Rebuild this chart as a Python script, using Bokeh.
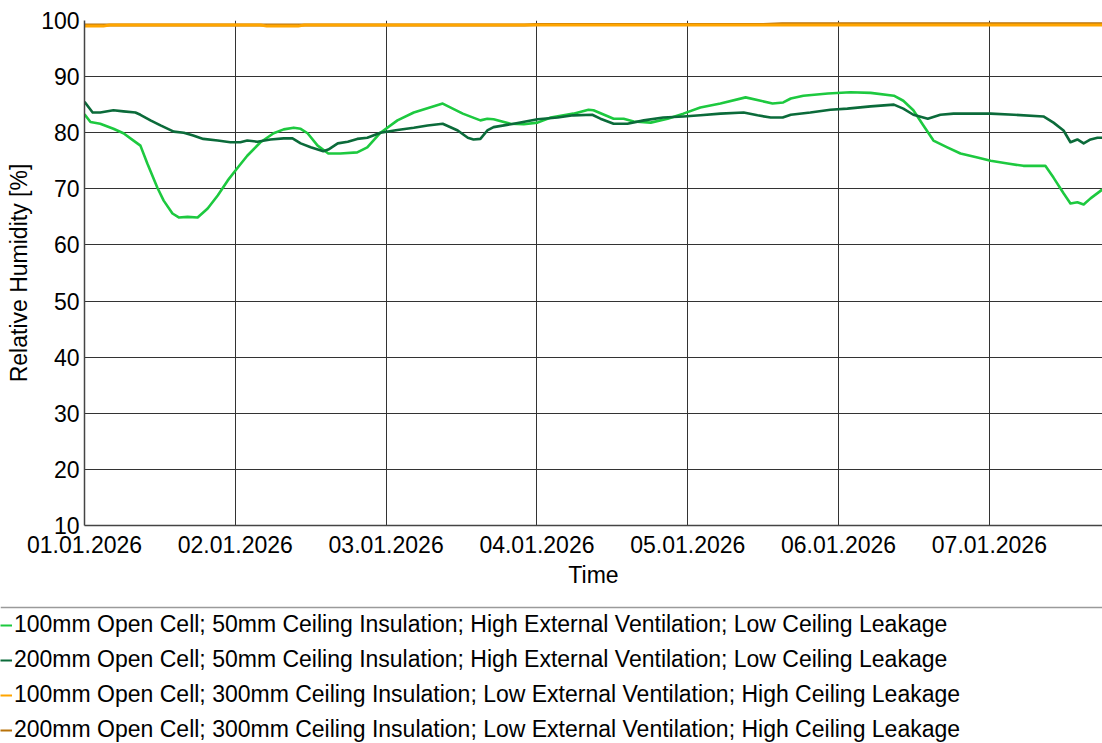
import pandas as pd
from bokeh.plotting import figure
from bokeh.models import (FixedTicker, DatetimeTickFormatter, Range1d, Legend, LegendItem,
                          Span, ColumnDataSource)
from bokeh.layouts import column, row
from bokeh.embed import file_html
from bokeh.resources import INLINE

# ---------------- data ----------------
start = pd.Timestamp("2026-01-01 00:00")

names = [
    "100mm Open Cell; 50mm Ceiling Insulation; High External Ventilation; Low Ceiling Leakage",
    "200mm Open Cell; 50mm Ceiling Insulation; High External Ventilation; Low Ceiling Leakage",
    "100mm Open Cell; 300mm Ceiling Insulation; Low External Ventilation; High Ceiling Leakage",
    "200mm Open Cell; 300mm Ceiling Insulation; Low External Ventilation; High Ceiling Leakage",
]
colors = ["#1DC93F", "#0B6B3A", "#FFA500", "#B8720A"]

h_a = [0, 0.95, 2.5, 4.6, 6.2, 7.8, 8.9, 10.0, 11.6, 12.6, 14.0, 15.0, 16.4, 18.0, 19.6,
       21.2, 22.8, 24.4, 25.9, 28.0, 30.1, 31.7, 33.3, 34.4, 35.5, 37.1, 38.8, 40.7, 43.4,
       45.0, 47.1, 49.8, 52.4, 57.0, 60.2, 63.0, 64.1, 65.1, 67.8, 69.9, 72.1, 74.2, 77.8,
       80.2, 81.0, 84.2, 85.8, 87.4, 90.1, 92.8, 95.3, 98.0, 101.2, 105.2, 107.6, 109.5,
       111.2, 112.4, 114.4, 118.3, 121.9, 125.1, 128.8, 130.3, 131.9, 133.5, 135.1, 137.3,
       139.4, 142.1, 144.2, 146.9, 149.4, 152.9, 154.2, 155.8, 156.9, 158.0, 159.0, 160.1, 162.0]
v_a = [83.3, 81.9, 81.6, 80.7, 79.9, 78.6, 77.7, 74.5, 70.2, 67.9, 65.6, 64.9, 65.0, 64.9, 66.5,
       68.8, 71.5, 73.8, 75.9, 78.3, 79.9, 80.6, 80.9, 80.7, 79.9, 77.7, 76.3, 76.3, 76.5,
       77.4, 80.0, 82.2, 83.6, 85.2, 83.4, 82.2, 82.5, 82.4, 81.6, 81.5, 81.8, 82.7, 83.4,
       84.1, 84.0, 82.5, 82.5, 82.0, 81.8, 82.5, 83.4, 84.5, 85.2, 86.3, 85.7, 85.2,
       85.4, 86.1, 86.6, 87.0, 87.2, 87.1, 86.6, 85.7, 84.0, 81.3, 78.6, 77.4,
       76.3, 75.6, 75.0, 74.5, 74.1, 74.1, 72.0, 69.2, 67.4, 67.6, 67.2, 68.3, 69.9]

h_b = [0, 1.3, 2.5, 4.6, 6.2, 8.1, 8.9, 10.5, 12.1, 14.2, 15.8, 17.3, 18.9, 21.2, 23.2, 24.8,
       25.9, 27.5, 29.6, 31.7, 33.1, 34.4, 36.0, 38.0, 38.8, 40.3, 41.9, 43.4, 45.0, 47.1,
       49.8, 52.4, 54.6, 57.0, 59.4, 61.0, 61.9, 63.0, 64.1, 65.1, 68.3, 72.1, 75.3, 77.8,
       80.8, 82.1, 84.2, 86.4, 89.0, 92.1, 95.3, 98.0, 101.2, 104.9, 107.1, 109.2, 111.1,
       112.4, 115.5, 118.7, 121.4, 125.1, 128.8, 130.3, 131.9, 134.2, 136.2, 138.3, 144.2,
       147.9, 152.6, 154.2, 155.8, 156.9, 158.0, 159.0, 160.1, 161.2, 162.0]
v_b = [85.5, 83.6, 83.6, 84.0, 83.8, 83.6, 83.2, 82.2, 81.3, 80.2, 80.0, 79.5, 78.9, 78.6, 78.3, 78.3,
       78.6, 78.4, 78.8, 79.0, 79.0, 78.1, 77.4, 76.7, 77.0, 78.1, 78.4, 78.9, 79.1, 80.0,
       80.5, 80.9, 81.3, 81.6, 80.4, 79.1, 78.8, 78.9, 80.4, 81.0, 81.6, 82.4, 82.7, 83.1,
       83.2, 82.5, 81.6, 81.6, 82.2, 82.7, 82.9, 83.1, 83.4, 83.6, 83.1, 82.7, 82.7,
       83.2, 83.6, 84.1, 84.3, 84.7, 85.0, 84.3, 83.2, 82.5, 83.2, 83.4, 83.4,
       83.2, 82.9, 81.8, 80.4, 78.3, 78.8, 78.1, 78.8, 79.1, 79.1]

h_c = [0, 3, 4, 28, 29, 34, 35, 162]
v_c = [99.0, 99.0, 99.2, 99.2, 99.0, 99.0, 99.2, 99.2]

h_d = [0, 70, 72, 108, 111, 162]
v_d = [99.2, 99.2, 99.3, 99.3, 99.4, 99.4]

day_ticks = ["2026-01-01", "2026-01-02", "2026-01-03", "2026-01-04",
             "2026-01-05", "2026-01-06", "2026-01-07"]
y_ticks = [10, 20, 30, 40, 50, 60, 70, 80, 90, 100]
x_end_hours = 162

# ---------------- plot ----------------
FONT = "Liberation Sans"
FS = "23px"
W = 1102

def to_time(hours):
    return [start + pd.Timedelta(hours=h) for h in hours]

p = figure(width=W, height=605, x_axis_type="datetime", output_backend="svg",
           toolbar_location=None, min_border_left=84, min_border_top=20,
           min_border_right=0, min_border_bottom=80)
p.x_range = Range1d(start, start + pd.Timedelta(hours=x_end_hours))
p.y_range = Range1d(10, 100)
p.outline_line_color = None

series = [(h_a, v_a), (h_b, v_b), (h_d, v_d), (h_c, v_c)]
order_colors = [colors[0], colors[1], colors[3], colors[2]]
widths = [2.6, 2.6, 3, 3]
for (hh, vv), c, w in zip(series, order_colors, widths):
    src = ColumnDataSource(dict(t=to_time(hh), v=vv))
    p.line("t", "v", source=src, line_color=c, line_width=w, line_join="round")

p.xaxis.ticker = FixedTicker(ticks=[pd.Timestamp(d).value / 1e6 for d in day_ticks])
fmt = "%d.%m.%Y"
p.xaxis.formatter = DatetimeTickFormatter(days=fmt, months=fmt, hours=fmt, years=fmt,
                                          minutes=fmt, hourmin=fmt, seconds=fmt,
                                          milliseconds=fmt, microseconds=fmt, minsec=fmt)
p.yaxis.ticker = FixedTicker(ticks=y_ticks)

for ax in (p.xaxis, p.yaxis):
    ax.major_label_text_font = FONT
    ax.major_label_text_font_size = FS
    ax.major_label_text_color = "black"
    ax.axis_label_text_font = FONT
    ax.axis_label_text_font_size = FS
    ax.axis_label_text_font_style = "normal"
    ax.axis_label_text_color = "black"
    ax.major_tick_out = 0
    ax.major_tick_in = 0
    ax.minor_tick_out = 0
    ax.minor_tick_in = 0
    ax.axis_line_color = "#444444"
    ax.axis_line_width = 1.5

p.xaxis.axis_label = "Time"
p.yaxis.axis_label = "Relative Humidity [%]"
p.xaxis.major_label_standoff = 10
p.xaxis.axis_label_standoff = 6
p.yaxis.major_label_standoff = 5
p.yaxis.axis_label_standoff = 6

p.grid.grid_line_color = "#333333"
p.grid.grid_line_alpha = 1.0
p.grid.grid_line_width = 1

# ---------------- legend panel ----------------
lg = figure(width=W, height=138, output_backend="svg", toolbar_location=None,
            min_border=0, x_range=Range1d(0, 1), y_range=Range1d(0, 1))
lg.axis.visible = False
lg.grid.visible = False
lg.outline_line_color = None
lg.add_layout(Span(location=0.985, dimension="width", line_color="#9a9a9a", line_width=1.5))

items = []
for name, c in zip(names, colors):
    r = lg.line(x=[float("nan")], y=[float("nan")], line_color=c, line_width=2)
    items.append(LegendItem(label=name, renderers=[r]))
legend = Legend(items=items, location=(0, 0), orientation="vertical",
                label_text_font=FONT, label_text_font_size=FS, label_text_color="black",
                glyph_width=12, glyph_height=26, label_height=26, label_standoff=2,
                spacing=8, padding=0, margin=0, border_line_color=None,
                background_fill_alpha=0)
lg.add_layout(legend, "center")

layout = column(p, row(lg), spacing=0)
open("out.html", "w").write(file_html(layout, INLINE))
